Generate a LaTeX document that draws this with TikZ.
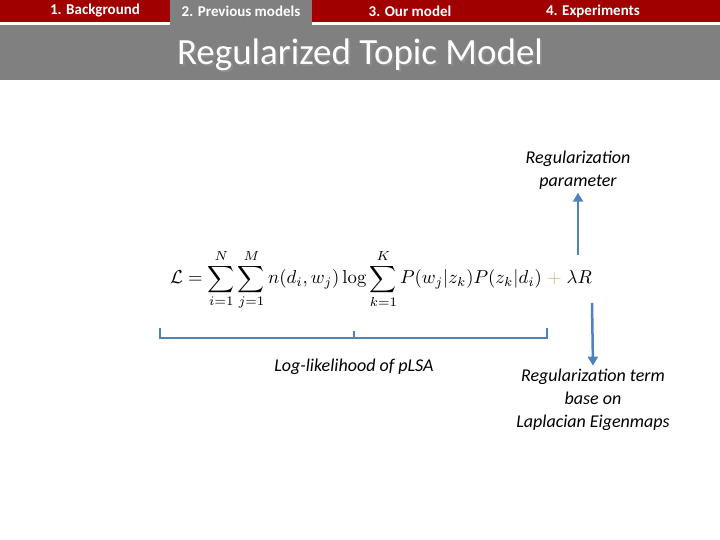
\documentclass[tikz,border=0pt]{standalone}
\usepackage{amsmath}
\usepackage[no-math]{fontspec}
\setmainfont{Carlito}
\usetikzlibrary{arrows.meta}
\definecolor{dred}{HTML}{A00000}
\definecolor{band}{HTML}{808080}
\definecolor{arr}{HTML}{4F81BD}
\definecolor{plus}{HTML}{D9B080}
\begin{document}
\begin{tikzpicture}[x=1pt,y=-1pt,
  tab/.style={font=\fontsize{15}{17}\selectfont\bfseries,text=white},
  lbl/.style={font=\fontsize{18}{23}\selectfont\itshape,align=center},
  blue arrow/.style={draw=arr,line width=2.5pt,-{Triangle[length=9pt,width=10pt]}}]
\useasboundingbox (0,0) rectangle (720,540);
\fill[dred] (0,0) rectangle (720,22);
\fill[band] (0,25) rectangle (720,80);
\fill[band] (170,0) rectangle (312,25);
\node[tab] (t1) at (95,11) {1. Background};
\node[tab] (t2) at (241,11) {2. Previous models};
\node[tab] (t3) at (410,11) {3. Our model};
\node[tab] (t4) at (593,11) {4. Experiments};
\node[text=black!45,font=\fontsize{37}{42}\selectfont] at (362,57) {Regularized Topic Model};
\node[text=white,font=\fontsize{37}{42}\selectfont] (title) at (360,55) {Regularized Topic Model};
\node (eq) at (381,280) {\scalebox{1.87}{$\mathcal{L}=\displaystyle\sum_{i=1}^{N}\sum_{j=1}^{M} n(d_i,w_j)\log\sum_{k=1}^{K}P(w_j|z_k)P(z_k|d_i)\;{\color{plus}+}\;\lambda R$}};
\coordinate (bl) at (160,328);
\coordinate (br) at (547,328);
\coordinate (bm) at (354,338);
\draw[arr,line width=1.5pt] (bl) -- (160,338) -- (547,338) -- (br);
\draw[arr,line width=1.5pt] (bm) -- (354,331);
\node[lbl] (ll) at (354,367) {Log-likelihood of pLSA};
\node[lbl] (rp) at (578,170) {Regularization\\parameter};
\node[lbl] (rt) at (593,400) {Regularization term\\base on\\Laplacian Eigenmaps};
\coordinate (ua) at (578,255);
\coordinate (da) at (592,303);
\draw[blue arrow] (ua) -- (rp.south);
\draw[blue arrow] (da) -- (rt.north);
\end{tikzpicture}
\end{document}
